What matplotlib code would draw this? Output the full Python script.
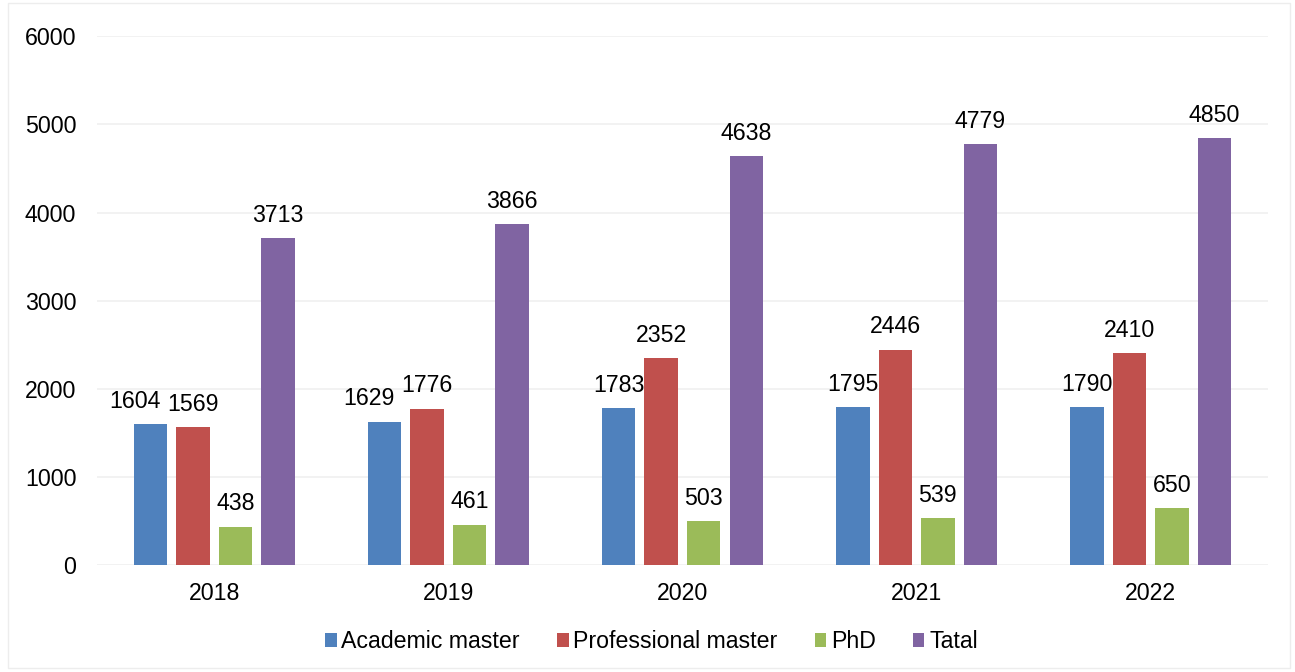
import matplotlib
matplotlib.use("Agg")
import matplotlib.pyplot as plt
import numpy as np
from matplotlib.patches import Rectangle

plt.rcParams['font.family'] = ['Liberation Sans', 'DejaVu Sans']

years = ["2018", "2019", "2020", "2021", "2022"]
academic = [1604, 1629, 1783, 1795, 1790]
professional = [1569, 1776, 2352, 2446, 2410]
phd = [438, 461, 503, 539, 650]
total = [3713, 3866, 4638, 4779, 4850]
series_names = ["Academic master", "Professional master", "PhD", "Tatal"]
colors = ["#4F81BD", "#C0504D", "#9BBB59", "#8064A2"]

# label nudges (series index, category index) -> horizontal offset in points
label_nudge = {(0, 0): -11, (0, 1): -11}

FS = 16.7
fig = plt.figure(figsize=(12.95, 6.72), dpi=100)
ax = fig.add_axes([0.075, 0.159, 0.904, 0.787])

x = np.arange(len(years))
width = 0.143
step = 0.1816
offsets = [-1.5 * step, -0.5 * step, 0.5 * step, 1.5 * step]
for si, (data, name, c, off) in enumerate(zip([academic, professional, phd, total], series_names, colors, offsets)):
    bars = ax.bar(x + off, data, width, color=c, label=name, zorder=3)
    for ci, (b, v) in enumerate(zip(bars, data)):
        dx = label_nudge.get((si, ci), 0)
        ax.annotate(str(v), (b.get_x() + b.get_width() / 2, v), xytext=(dx, 8),
                    textcoords="offset points", ha="center", va="bottom", fontsize=FS)

ax.set_xlim(-0.5, 4.5)
ax.set_ylim(0, 6000)
ax.set_yticks(range(0, 6001, 1000))
ax.set_xticks(x)
ax.set_xticklabels(years)
ax.tick_params(axis='both', length=0, labelsize=FS)
ax.tick_params(axis='x', pad=12)
ax.tick_params(axis='y', pad=15)
ax.grid(axis='y', color='#f0f0f0', linewidth=1.2, zorder=0)
for s in ax.spines.values():
    s.set_visible(False)

leg = fig.legend(loc='center', bbox_to_anchor=(0.503, 0.045), ncol=4, frameon=False,
                 fontsize=FS, handlelength=0.5, handleheight=0.5, handletextpad=0.2,
                 columnspacing=1.6)

fig.patches.append(Rectangle((0.006, 0.006), 0.99, 0.99, transform=fig.transFigure,
                             fill=False, edgecolor='#ededed', linewidth=1))

fig.savefig("out.png", dpi=100)
